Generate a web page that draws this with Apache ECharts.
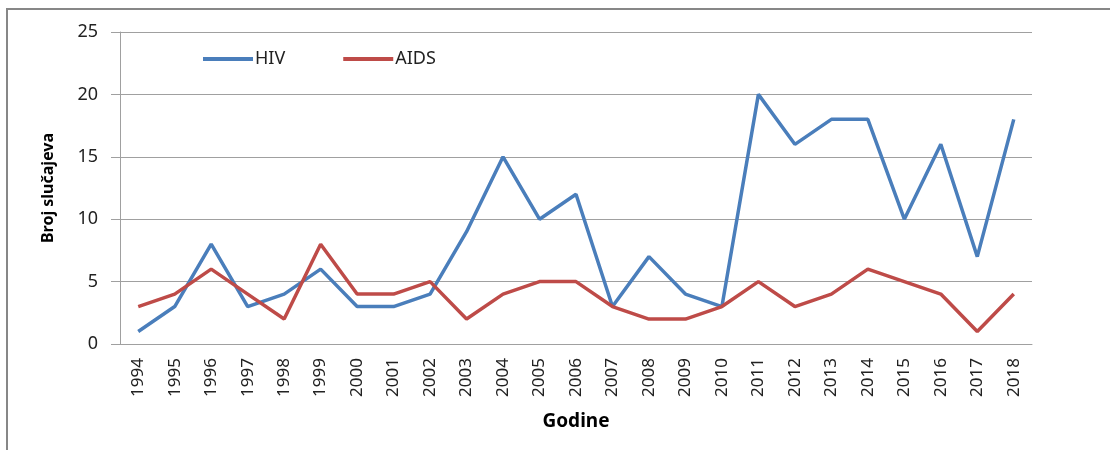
<!DOCTYPE html>
<html>
<head>
<meta charset="utf-8">
<script src="https://cdn.jsdelivr.net/npm/echarts@6/dist/echarts.min.js"></script>
<style>
  html, body { margin: 0; padding: 0; background: #fff; }
  #chart { width: 1110px; height: 450px; }
</style>
</head>
<body>
<div id="chart"></div>
<script>
// godine
var years = ['1994', '1995', '1996', '1997', '1998', '1999', '2000', '2001', '2002', '2003',
    '2004', '2005', '2006', '2007', '2008', '2009', '2010', '2011', '2012', '2013',
    '2014', '2015', '2016', '2017', '2018'];
var hivCases = [1, 3, 8, 3, 4, 6, 3, 3, 4, 9, 15, 10, 12, 3, 7, 4, 3, 20, 16, 18, 18, 10, 16, 7, 18];
var aidsCases = [3, 4, 6, 4, 2, 8, 4, 4, 5, 2, 4, 5, 5, 3, 2, 2, 3, 5, 3, 4, 6, 5, 4, 1, 4];

var fontFam = 'Noto Sans';
var myChart = echarts.init(document.getElementById('chart'));
var option = {
    animation: false,
    textStyle: { fontFamily: fontFam },
    graphic: [
        { // okvir
            type: 'polyline',
            shape: { points: [[7, 450], [7, 9], [1110, 9]] },
            style: { stroke: '#878787', lineWidth: 2, fill: null }
        }
    ],
    legend: {
        left: 198,
        top: 45,
        itemWidth: 50,
        itemHeight: 4,
        itemGap: 58,
        icon: 'rect',
        textStyle: { fontSize: 18, color: '#222', padding: [0, 0, 0, -3] },
        data: ['HIV', 'AIDS']
    },
    grid: { left: 120, right: 78, top: 32, bottom: 106 },
    xAxis: {
        type: 'category',
        data: years,
        boundaryGap: true,
        name: 'Godine',
        nameLocation: 'middle',
        nameGap: 68,
        nameTextStyle: { fontSize: 19, fontWeight: 'bold', color: '#000' },
        axisLine: { lineStyle: { color: '#a0a0a0', width: 1 } },
        axisTick: { show: false },
        axisLabel: { rotate: 90, fontSize: 17, color: '#222', margin: 14 }
    },
    yAxis: {
        type: 'value',
        min: 0,
        max: 25,
        interval: 5,
        name: 'Broj slučajeva',
        nameLocation: 'middle',
        nameGap: 64,
        nameTextStyle: { fontSize: 16, fontWeight: 'bold', color: '#000' },
        axisLine: { show: true, lineStyle: { color: '#a0a0a0', width: 1 } },
        axisTick: { show: true, inside: false, length: 9, lineStyle: { color: '#a0a0a0' } },
        axisLabel: { fontSize: 18, color: '#222', margin: 22 },
        splitLine: { lineStyle: { color: '#a0a0a0', width: 1 } }
    },
    series: [
        {
            name: 'HIV',
            type: 'line',
            data: hivCases,
            symbol: 'none',
            color: '#4a7ebb',
            lineStyle: { width: 3.5, color: '#4a7ebb' }
        },
        {
            name: 'AIDS',
            type: 'line',
            data: aidsCases,
            symbol: 'none',
            color: '#be4b48',
            lineStyle: { width: 3.5, color: '#be4b48' }
        }
    ]
};
myChart.setOption(option);
</script>
</body>
</html>
